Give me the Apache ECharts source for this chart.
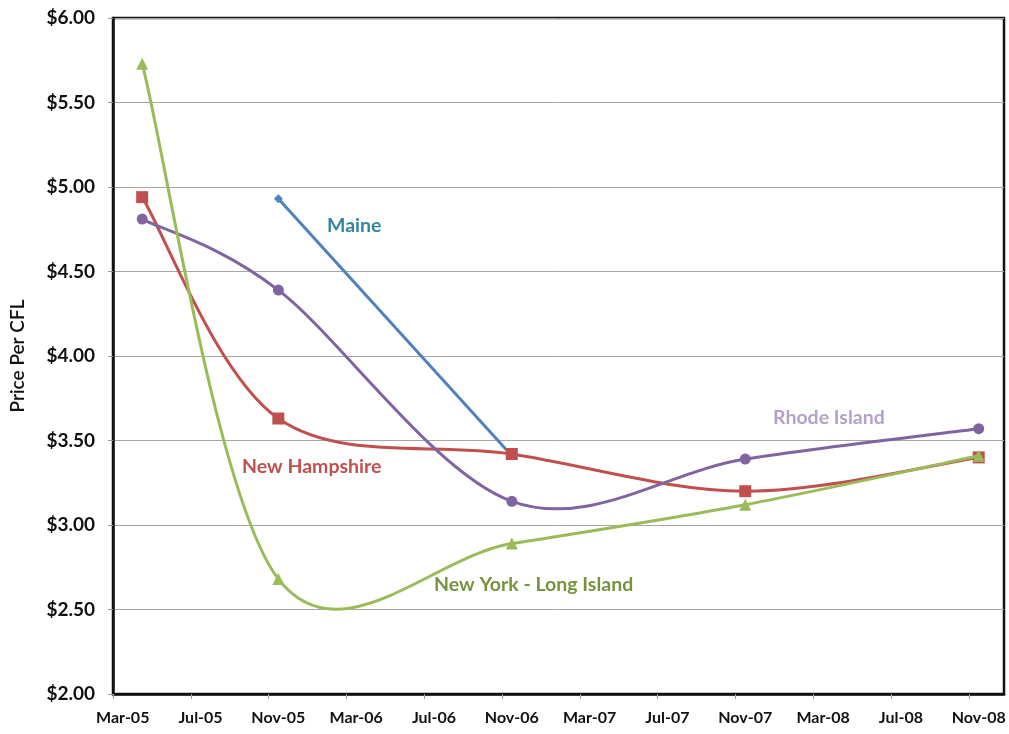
<!DOCTYPE html>
<html>
<head>
<meta charset="utf-8">
<script src="https://cdn.jsdelivr.net/npm/echarts@6/dist/echarts.min.js"></script>
<style>
  html, body { margin: 0; padding: 0; background: #fff; }
  #chart { width: 1009px; height: 734px; }
</style>
</head>
<body>
<div id="chart"></div>
<script>
// Survey dates (months counted from Mar-05)
const surveyMonths = [1, 8, 20, 32, 44]; // Apr-05, Nov-05, Nov-06, Nov-07, Nov-08

// Price per CFL by state
const newYorkLI    = [5.73, 2.68, 2.89, 3.12, 3.41];
const newHampshire = [4.94, 3.63, 3.42, 3.20, 3.40];
const rhodeIsland  = [4.81, 4.39, 3.14, 3.39, 3.57];
const maine        = [null, 4.93, 3.41, null, null];

// Date axis labels, every four months from Mar-05
const tickLabels = ['Mar-05', 'Jul-05', 'Nov-05', 'Mar-06', 'Jul-06', 'Nov-06',
                    'Mar-07', 'Jul-07', 'Nov-07', 'Mar-08', 'Jul-08', 'Nov-08'];
const labelMonths = tickLabels.map((_, i) => i * 4);
const tickMonths = labelMonths.map(m => m - 0.5);

const FONT = 'Lato, "Open Sans", sans-serif';

function pairs(values) {
  return values.map((v, i) => v == null ? null : [surveyMonths[i], v]).filter(p => p);
}

// Smoothed line: cubic Bezier segments with Catmull-Rom style tangents,
// built from the data points after they pass through the axis scales.
function smoothLine(name, values, color, z) {
  const pts = pairs(values);
  return {
    name, type: 'custom', data: pts, z,
    encode: { x: 0, y: 1 },
    silent: true,
    renderItem: (params, api) => {
      const i = params.dataIndex;
      if (i >= pts.length - 1) return null;
      const P = k => api.coord(pts[Math.max(0, Math.min(pts.length - 1, k))]);
      const p0 = P(i - 1), p1 = P(i), p2 = P(i + 1), p3 = P(i + 2);
      return {
        type: 'bezierCurve',
        shape: {
          x1: p1[0], y1: p1[1], x2: p2[0], y2: p2[1],
          cpx1: p1[0] + (p2[0] - p0[0]) / 6, cpy1: p1[1] + (p2[1] - p0[1]) / 6,
          cpx2: p2[0] - (p3[0] - p1[0]) / 6, cpy2: p2[1] - (p3[1] - p1[1]) / 6
        },
        style: { stroke: color, lineWidth: 3, fill: 'none', lineCap: 'round' }
      };
    }
  };
}

function markers(name, values, color, symbol, size, z) {
  return {
    name, type: 'scatter', data: pairs(values), z,
    symbol, symbolSize: size,
    itemStyle: { color, opacity: 1 },
    silent: true
  };
}

const chart = echarts.init(document.getElementById('chart'), null, { renderer: 'canvas' });

chart.setOption({
  animation: false,
  backgroundColor: '#ffffff',
  grid: {
    left: 110, right: 5, top: 18, bottom: 40,
    show: true, borderColor: '#111', borderWidth: 2.5,
    containLabel: false
  },
  xAxis: {
    type: 'value',
    min: -0.5,
    max: 45.3,
    axisLine: { show: true, onZero: false, lineStyle: { color: '#111', width: 2.5 } },
    axisTick: {
      show: true, inside: false, length: 5,
      customValues: tickMonths,
      lineStyle: { color: '#999', width: 1 }
    },
    axisLabel: {
      customValues: labelMonths,
      formatter: v => tickLabels[Math.round(v / 4)],
      fontFamily: FONT, fontWeight: 'bold', fontSize: 16, color: '#111',
      margin: 16
    },
    splitLine: { show: false }
  },
  yAxis: {
    type: 'value',
    min: 2, max: 6, interval: 0.5,
    name: 'Price Per CFL',
    nameLocation: 'middle',
    nameGap: 86,
    nameRotate: 90,
    nameTextStyle: { fontFamily: FONT, fontSize: 19, fontWeight: 600, color: '#111' },
    axisLine: { show: true, onZero: false, lineStyle: { color: '#111', width: 2.5 } },
    axisTick: { show: true, inside: false, length: 5, lineStyle: { color: '#999' } },
    axisLabel: {
      formatter: v => '$' + v.toFixed(2),
      fontFamily: FONT, fontWeight: 'bold', fontSize: 19, color: '#111',
      margin: 18
    },
    splitLine: { show: true, lineStyle: { color: '#a6a6a6', width: 1 } }
  },
  series: [
    {
      name: 'Maine', type: 'line', data: pairs(maine), z: 2,
      symbol: 'diamond', symbolSize: 9,
      lineStyle: { color: '#4F81BD', width: 3 },
      itemStyle: { color: '#4F81BD' },
      silent: true
    },
    smoothLine('New Hampshire', newHampshire, '#C0504D', 3),
    markers('New Hampshire', newHampshire, '#C0504D', 'rect', 12, 3),
    smoothLine('Rhode Island', rhodeIsland, '#8064A2', 4),
    markers('Rhode Island', rhodeIsland, '#8064A2', 'circle', 11, 4),
    smoothLine('New York - Long Island', newYorkLI, '#9BBB59', 5),
    markers('New York - Long Island', newYorkLI, '#9BBB59', 'triangle', 12, 5)
  ],
  graphic: [
    { type: 'text', left: 327, top: 216, style: { text: 'Maine', fill: '#31859C', font: 'bold 19.5px ' + FONT } },
    { type: 'text', left: 773, top: 408, style: { text: 'Rhode Island', fill: '#B3A2C7', font: 'bold 19.5px ' + FONT } },
    { type: 'text', left: 242, top: 457, style: { text: 'New Hampshire', fill: '#C0504D', font: 'bold 19.5px ' + FONT } },
    { type: 'text', left: 434, top: 575, style: { text: 'New York - Long Island', fill: '#77933C', font: 'bold 19.5px ' + FONT } }
  ]
});
</script>
</body>
</html>
